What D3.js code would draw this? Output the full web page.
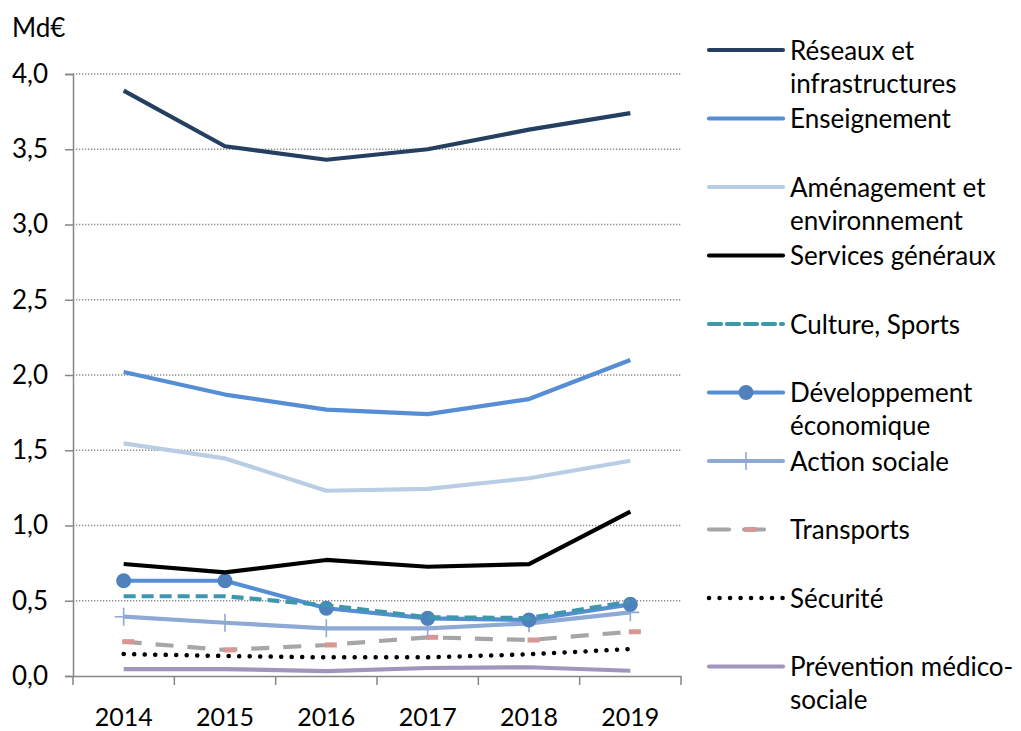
<!DOCTYPE html>
<html><head><meta charset="utf-8">
<script src="https://cdn.jsdelivr.net/npm/d3@7"></script>
<style>body{margin:0;background:#fff}svg{display:block}text{font-family:Lato,"Open Sans",sans-serif;fill:#000}</style>
</head><body><svg id="c" width="1021" height="731"></svg>
<script>
const years = ["2014","2015","2016","2017","2018","2019"];
const yTicks = [0,0.5,1,1.5,2,2.5,3,3.5,4];
const reseaux = [3.89,3.52,3.43,3.50,3.63,3.74];
const enseignement = [2.02,1.87,1.77,1.74,1.84,2.10];
const amenagement = [1.546,1.446,1.231,1.243,1.314,1.43];
const services = [0.744,0.689,0.771,0.726,0.744,1.092];
const culture = [0.53,0.53,0.47,0.39,0.385,0.495];
const developpement = [0.633,0.633,0.45,0.383,0.372,0.476];
const action = [0.394,0.354,0.317,0.317,0.35,0.423];
const transports = [0.228,0.173,0.206,0.257,0.239,0.294];
const securite = [0.146,0.133,0.124,0.124,0.144,0.179];
const prevention = [0.046,0.046,0.033,0.053,0.058,0.035];

const series = [
  {name:["Réseaux et","infrastructures"], values:reseaux, color:"#243f60", dash:null},
  {name:["Enseignement"], values:enseignement, color:"#558ed5", dash:null},
  {name:["Aménagement et","environnement"], values:amenagement, color:"#b9cde5", dash:null},
  {name:["Services généraux"], values:services, color:"#000000", dash:null},
  {name:["Culture, Sports"], values:culture, color:"#3e97ae", dash:"12,6"},
  {name:["Développement","économique"], values:developpement, color:"#558ed5", dash:null, marker:"circle"},
  {name:["Action sociale"], values:action, color:"#8eaad4", dash:null, marker:"plus"},
  {name:["Transports"], values:transports, color:"#a6a6a6", dash:"18,14", legendDash:"20,15,20,100", marker:"dash"},
  {name:["Sécurité"], values:securite, color:"#000000", dash:"0.1,10.4", cap:"round", width:4.5},
  {name:["Prévention médico-","sociale"], values:prevention, color:"#a195bd", dash:null}
];
const drawOrder = [9,8,7,6,5,4,3,2,1,0];

const svg = d3.select("#c");
const x = d3.scaleBand().domain(years).range([73,681]);
const y = d3.scaleLinear().domain([0,4]).range([676,74]);
const cx = d => x(d)+x.bandwidth()/2;
const fmt = d3.formatLocale({decimal:",",thousands:" ",grouping:[3],currency:["","€"]}).format(".1f");

// gridlines
svg.append("g").selectAll("line").data(yTicks.filter(d=>d>0)).join("line")
  .attr("x1",73).attr("x2",681).attr("y1",d=>y(d)).attr("y2",d=>y(d))
  .attr("stroke","#8c8c8c").attr("stroke-width",1.3).attr("stroke-dasharray","1.3,1.7");

// y axis
const ya = svg.append("g").attr("transform","translate(73,0)")
  .call(d3.axisLeft(y).tickValues(yTicks).tickFormat(fmt).tickSize(8).tickPadding(17));
ya.select(".domain").attr("stroke","#868686").attr("stroke-width",1.5);
ya.selectAll(".tick line").attr("stroke","#868686").attr("stroke-width",1.5);
ya.selectAll(".tick text").attr("font-size",26).attr("font-family","Lato").attr("fill","#000");

// x axis
const xa = svg.append("g").attr("transform","translate(0,676)")
  .call(d3.axisBottom(x).tickSize(0).tickPadding(32));
xa.select(".domain").attr("stroke","#868686").attr("stroke-width",1.5);
xa.selectAll(".tick text").attr("font-size",25).attr("font-family","Lato").attr("fill","#000");
const bounds = years.map(d=>x(d)).concat([x.range()[1]]);
svg.append("g").selectAll("line").data(bounds).join("line")
  .attr("x1",d=>d).attr("x2",d=>d).attr("y1",676).attr("y2",685)
  .attr("stroke","#868686").attr("stroke-width",1.5);

svg.append("text").attr("x",12).attr("y",37).attr("font-size",26).text("Md€");

const line = d3.line().x((d,i)=>cx(years[i])).y(d=>y(d));

function drawMarkers(g, s, pts){
  if(s.marker==="circle"){
    g.selectAll("circle").data(pts).join("circle").attr("cx",p=>p[0]).attr("cy",p=>p[1]).attr("r",7.5).attr("fill","#4f81bd");
  } else if(s.marker==="plus"){
    g.selectAll("path.m").data(pts).join("path").attr("class","m")
      .attr("d",p=>`M${p[0]-9},${p[1]}H${p[0]+9}M${p[0]},${p[1]-9}V${p[1]+9}`)
      .attr("stroke",s.color).attr("stroke-width",1.6).attr("fill","none");
  } else if(s.marker==="dash"){
    g.selectAll("rect").data(pts).join("rect").attr("x",p=>p[0]-1.5).attr("y",p=>p[1]-2.5).attr("width",12).attr("height",5).attr("fill","#d99694");
  }
}

drawOrder.forEach(k=>{
  const s = series[k];
  const g = svg.append("g");
  g.append("path").datum(s.values).attr("d",line).attr("fill","none")
    .attr("stroke",s.color).attr("stroke-width",s.width||4.2)
    .attr("stroke-dasharray",s.dash).attr("stroke-linecap",s.cap||"butt").attr("stroke-linejoin","round");
  const pts = s.values.map((v,i)=>[cx(years[i]),y(v)]);
  drawMarkers(g,s,pts);
});

// legend
const lg = svg.append("g");
series.forEach((s,i)=>{
  const ly = 50 + i*68.5;
  const g = lg.append("g");
  g.append("line").attr("x1",709).attr("x2",783).attr("y1",ly).attr("y2",ly)
    .attr("stroke",s.color).attr("stroke-width",s.width||4.2)
    .attr("stroke-dasharray",s.legendDash||s.dash).attr("stroke-linecap",s.cap||"round");
  if(s.marker) drawMarkers(g,s,[[746,ly]]);
  s.name.forEach((t,j)=>{
    g.append("text").attr("x",790).attr("y",ly+9.5+j*33).attr("font-size",26).text(t);
  });
});
</script></body></html>
